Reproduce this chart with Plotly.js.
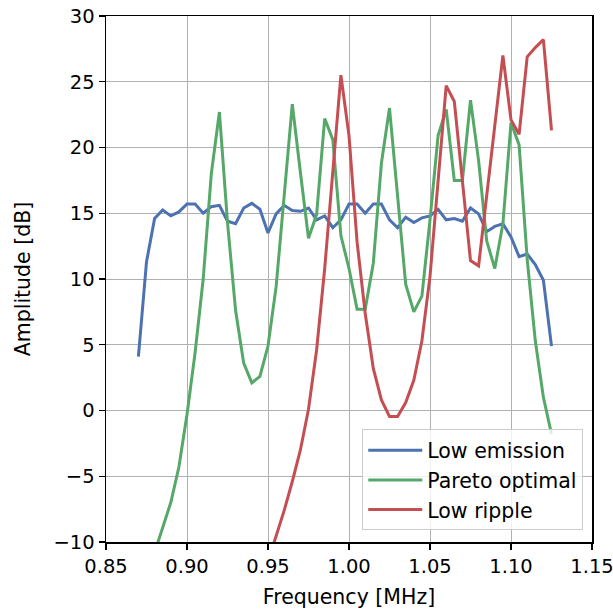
<!DOCTYPE html>
<html>
<head>
<meta charset="utf-8">
<script src="https://cdn.plot.ly/plotly-3.0.1.min.js"></script>
<style>html,body{margin:0;padding:0;background:#fff;}#chart{width:613px;height:611px;}</style>
</head>
<body>
<div id="chart"></div>
<script>
const freq = [0.870,0.875,0.880,0.885,0.890,0.895,0.900,0.905,0.910,0.915,0.920,0.925,0.930,0.935,0.940,0.945,0.950,0.955,0.960,0.965,0.970,0.975,0.980,0.985,0.990,0.995,1.000,1.005,1.010,1.015,1.020,1.025,1.030,1.035,1.040,1.045,1.050,1.055,1.060,1.065,1.070,1.075,1.080,1.085,1.090,1.095,1.100,1.105,1.110,1.115,1.120,1.125];

const lowEmission = [4.1,11.3,14.6,15.25,14.8,15.1,15.7,15.7,15.0,15.5,15.6,14.4,14.2,15.4,15.75,15.3,13.5,14.95,15.6,15.2,15.15,15.4,14.5,14.8,13.9,14.5,15.7,15.7,15.0,15.7,15.7,14.5,13.9,14.7,14.3,14.65,14.8,15.3,14.5,14.6,14.4,15.4,14.95,13.6,14.0,14.2,13.2,11.7,11.9,11.1,9.9,4.9];

const paretoOptimal = [null,null,-10.8,-8.9,-7.0,-4.3,-0.3,4.4,10.0,18.0,22.7,14.3,7.6,3.6,2.1,2.6,4.9,9.4,16.3,23.3,18.1,13.1,14.9,22.2,20.6,13.3,10.8,7.7,7.7,11.2,18.8,23.0,16.3,9.6,7.5,8.7,14.5,20.9,22.9,17.5,17.5,23.6,19.0,12.9,10.8,14.2,21.9,20.2,11.5,5.3,1.0,-1.8];

const lowRipple = [null,null,null,null,null,null,null,null,null,null,null,null,null,null,null,null,-11.5,-9.6,-7.6,-5.4,-3.0,0.1,4.6,10.8,18.3,25.5,20.9,12.8,7.4,3.2,0.8,-0.45,-0.45,0.6,2.3,5.3,10.2,17.3,24.7,23.5,17.5,11.4,11.0,16.5,21.8,27.0,22.1,21.0,26.9,27.6,28.2,21.3];

const seriesNames = ["Low emission","Pareto optimal","Low ripple"];
const xTicks = [0.85,0.90,0.95,1.00,1.05,1.10,1.15];
const yTicks = [-10,-5,0,5,10,15,20,25,30];

const colors = ["#4C72B0","#55A868","#C44E52"];
const data = [lowEmission, paretoOptimal, lowRipple].map((y,i)=>({
  x: freq, y: y, type: 'scatter', mode: 'lines', name: seriesNames[i],
  line: {color: colors[i], width: 3}, connectgaps: false
}));

const font = {family: 'DejaVu Sans, sans-serif', size: 20.5, color: '#000'};
const tickFont = {family: 'DejaVu Sans, sans-serif', size: 19.5, color: '#000'};
const layout = {
  width: 613, height: 611,
  margin: {l: 106, r: 21, t: 16, b: 69},
  paper_bgcolor: '#fff', plot_bgcolor: '#fff',
  font: font,
  showlegend: true,
  legend: {
    x: 0.982, y: 0.022, xanchor: 'right', yanchor: 'bottom',
    bgcolor: 'rgba(255,255,255,0.8)', bordercolor: '#cccccc', borderwidth: 1,
    font: {family: 'DejaVu Sans, sans-serif', size: 20.5, color: '#000'},
    tracegroupgap: 0, itemwidth: 54
  },
  xaxis: {
    range: [0.85, 1.1500001], tickvals: xTicks, ticktext: xTicks.map(v=>v.toFixed(2)),
    tickfont: tickFont,
    showgrid: true, gridcolor: '#b0b0b0', gridwidth: 1,
    showline: true, linecolor: '#000', linewidth: 1.5, mirror: true,
    ticks: 'outside', ticklen: 6, tickwidth: 1.3, tickcolor: '#000',
    zeroline: false, automargin: false, ticklabeloverflow: 'allow',
    title: {text: 'Frequency [MHz]', font: font, standoff: 12}
  },
  yaxis: {
    range: [-10, 30], tickvals: yTicks, ticktext: yTicks.map(v=> v<0 ? '\u2212'+Math.abs(v) : String(v)),
    tickfont: tickFont,
    showgrid: true, gridcolor: '#b0b0b0', gridwidth: 1,
    showline: true, linecolor: '#000', linewidth: 1.5, mirror: true,
    ticks: 'outside', ticklen: 6, tickwidth: 1.3, tickcolor: '#000',
    zeroline: false, automargin: false, ticklabeloverflow: 'allow',
    title: {text: 'Amplitude [dB]', font: font, standoff: 17}
  }
};

Plotly.newPlot('chart', data, layout, {displayModeBar: false, staticPlot: true});
</script>
</body>
</html>
